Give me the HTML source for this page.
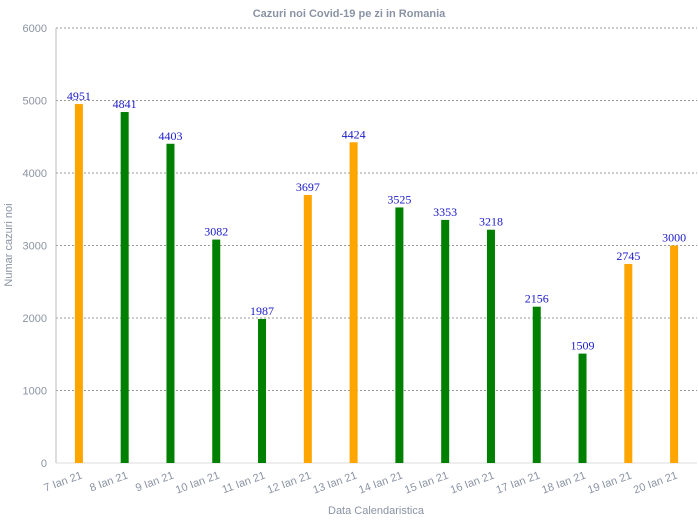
<!DOCTYPE html>
<html><head><meta charset="utf-8"><style>
body{margin:0;background:#fff;}
svg{display:block;font-family:"Liberation Sans",sans-serif;}
</style></head><body>
<svg id="c" width="698" height="520"></svg>
<script>
const categories=["7 Ian 21","8 Ian 21","9 Ian 21","10 Ian 21","11 Ian 21","12 Ian 21","13 Ian 21","14 Ian 21","15 Ian 21","16 Ian 21","17 Ian 21","18 Ian 21","19 Ian 21","20 Ian 21"];
const values=[4951,4841,4403,3082,1987,3697,4424,3525,3353,3218,2156,1509,2745,3000];
const weekend=[true,false,false,false,false,true,true,false,false,false,false,false,true,true];
const ticks=[0,1000,2000,3000,4000,5000,6000];
const NS="http://www.w3.org/2000/svg";
const svg=document.getElementById('c');
const L=56,R=697,T=28,B=463,maxV=6000;
const y=v=>B-(v/maxV)*(B-T);
const bw=(R-L)/categories.length;
const x=i=>L+bw*(i+0.5);
function mk(t,a,txt){const e=document.createElementNS(NS,t);for(const k in a)e.setAttribute(k,a[k]);if(txt!==undefined)e.textContent=txt;svg.appendChild(e);return e;}
let e=mk('text',{x:349,y:17,'text-anchor':'middle','font-size':11,'font-weight':'bold',fill:'#8a93a3'},'Cazuri noi Covid-19 pe zi in Romania');


ticks.forEach(t=>{
  if(t>0){const g=mk('line',{x1:L,x2:R,y1:y(t),y2:y(t),stroke:'#999','stroke-dasharray':'2,2','stroke-width':1});
  
  }
  const l=mk('text',{x:47,y:y(t)+4,'text-anchor':'end','font-size':11,fill:'#8a93a3'},t);
  
  
});
e=mk('line',{x1:L,x2:L,y1:T,y2:B,stroke:'#bbb'});


e=mk('line',{x1:L,x2:R,y1:B,y2:B,stroke:'#ddd'});


categories.forEach((c,i)=>{
  const v=values[i],cx=x(i);
  const b=mk('rect',{x:cx-4,y:y(v),width:8,height:B-y(v),fill:weekend[i]?'#FFA500':'#008000'});
  
  
  const vl=mk('text',{x:cx,y:y(v)-4,'text-anchor':'middle','font-size':12,fill:'#1a1acc','font-family':'Liberation Serif,serif'},v);
  
  
  const xl=mk('text',{x:cx+4,y:478,'text-anchor':'end','font-size':11,fill:'#8a93a3',transform:`rotate(-20 ${cx+4} 478)`},c);
  
  
});
e=mk('text',{x:376,y:514,'text-anchor':'middle','font-size':11,fill:'#8a93a3'},'Data Calendaristica');


e=mk('text',{x:12,y:245,'text-anchor':'middle','font-size':11,fill:'#8a93a3',transform:'rotate(-90 12 245)'},'Numar cazuri noi');


</script>
</body></html>
